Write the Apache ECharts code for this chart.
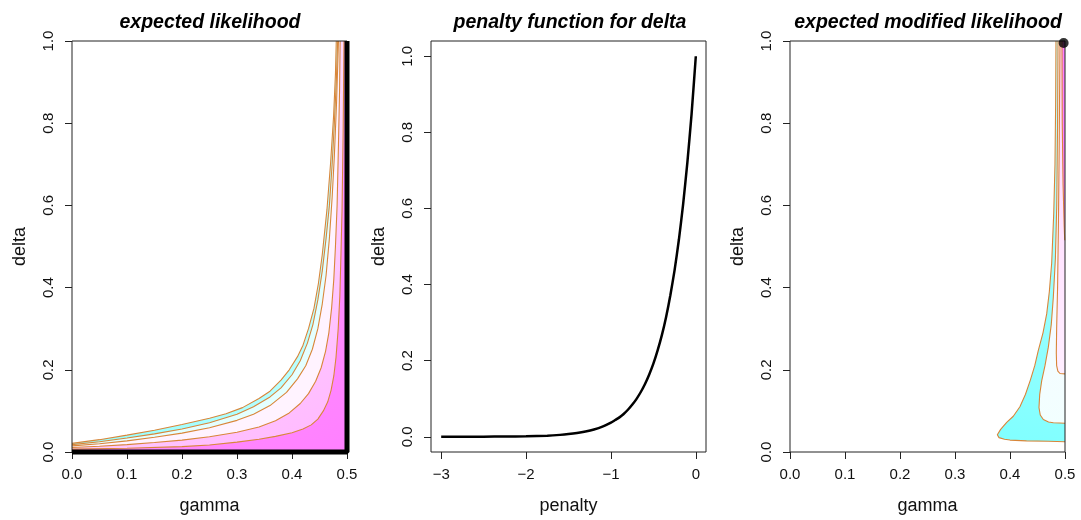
<!DOCTYPE html>
<html>
<head>
<meta charset="utf-8">
<script src="https://cdn.jsdelivr.net/npm/echarts@6/dist/echarts.min.js"></script>
<style>
  html, body { margin: 0; padding: 0; background: #fff; }
  #main { width: 1081px; height: 520px; }
</style>
</head>
<body>
<div id="main"></div>
<script>
var gammaTicks = [0, 0.1, 0.2, 0.3, 0.4, 0.5];
var deltaTicks = [0, 0.2, 0.4, 0.6, 0.8, 1];
var penaltyTicks = [-3, -2, -1, 0];

// middle panel: penalty -> delta
var penalty = [-3, -2.5, -2.25, -2, -1.75, -1.6, -1.5, -1.4, -1.3, -1.2, -1.1, -1, -0.95, -0.9, -0.85, -0.8, -0.75, -0.7, -0.65, -0.6, -0.55, -0.5, -0.45, -0.4, -0.35, -0.3, -0.25, -0.2, -0.15, -0.1, -0.05, 0];
var penaltyDelta = [0.00005, 0.0003, 0.0006, 0.0014, 0.003, 0.005, 0.007, 0.0098, 0.0137, 0.019, 0.0265, 0.037, 0.044, 0.051, 0.06, 0.071, 0.084, 0.099, 0.117, 0.138, 0.163, 0.192, 0.227, 0.267, 0.315, 0.372, 0.438, 0.517, 0.61, 0.72, 0.848, 1.0];

// left panel contour lines, [gamma, delta]
var likC1 = [[0, 0.021], [0.05, 0.03], [0.1, 0.041], [0.15, 0.053], [0.2, 0.067], [0.25, 0.082], [0.28, 0.093], [0.31, 0.108], [0.34, 0.13], [0.36, 0.148], [0.38, 0.175], [0.395, 0.2], [0.41, 0.232], [0.42, 0.26], [0.43, 0.3], [0.44, 0.35], [0.448, 0.41], [0.455, 0.48], [0.4635, 0.589], [0.47, 0.7], [0.4756, 0.817], [0.479, 0.92], [0.4805, 1]];
var likC2 = [[0, 0.018], [0.05, 0.025], [0.1, 0.034], [0.15, 0.044], [0.2, 0.056], [0.25, 0.071], [0.3, 0.092], [0.33, 0.11], [0.36, 0.134], [0.38, 0.156], [0.4, 0.188], [0.415, 0.222], [0.428, 0.265], [0.438, 0.31], [0.447, 0.37], [0.455, 0.44], [0.462, 0.52], [0.468, 0.6], [0.473, 0.7], [0.477, 0.8], [0.4805, 0.9], [0.483, 1]];
var likC3 = [[0, 0.015], [0.05, 0.02], [0.1, 0.027], [0.15, 0.036], [0.2, 0.046], [0.25, 0.059], [0.3, 0.077], [0.33, 0.092], [0.36, 0.113], [0.39, 0.145], [0.41, 0.178], [0.425, 0.21], [0.437, 0.25], [0.447, 0.3], [0.455, 0.36], [0.462, 0.43], [0.468, 0.52], [0.473, 0.62], [0.477, 0.72], [0.481, 0.85], [0.4845, 1]];
var likC4 = [[0, 0.011], [0.05, 0.014], [0.1, 0.018], [0.15, 0.023], [0.2, 0.029], [0.25, 0.037], [0.3, 0.048], [0.34, 0.061], [0.37, 0.076], [0.395, 0.095], [0.415, 0.118], [0.43, 0.142], [0.443, 0.172], [0.453, 0.205], [0.461, 0.245], [0.467, 0.29], [0.472, 0.35], [0.476, 0.42], [0.479, 0.5], [0.482, 0.6], [0.4845, 0.75], [0.4865, 0.88], [0.4875, 1]];
var likC5 = [[0, 0.007], [0.1, 0.009], [0.2, 0.013], [0.25, 0.017], [0.3, 0.024], [0.34, 0.031], [0.37, 0.038], [0.4, 0.047], [0.42, 0.056], [0.435, 0.066], [0.447, 0.08], [0.457, 0.1], [0.465, 0.122], [0.471, 0.15], [0.476, 0.185], [0.48, 0.23], [0.484, 0.3], [0.487, 0.38], [0.489, 0.48], [0.491, 0.589], [0.493, 0.78], [0.4945, 1]];
var likBoundary = [[0, 0], [0.5, 0], [0.5, 1]];

// right panel contour lines
var modC1 = [[0.4836, 1], [0.483, 0.85], [0.4818, 0.7], [0.4795, 0.58], [0.4758, 0.46], [0.4715, 0.39], [0.4667, 0.336], [0.46, 0.29], [0.4515, 0.247], [0.445, 0.21], [0.437, 0.175], [0.428, 0.14], [0.418, 0.11], [0.406, 0.087], [0.394, 0.072], [0.383, 0.055], [0.377, 0.042], [0.38, 0.035], [0.39, 0.031], [0.4, 0.029], [0.43, 0.027], [0.47, 0.026], [0.5, 0.025]];
var modC2 = [[0.4873, 1], [0.4865, 0.8], [0.485, 0.6], [0.4825, 0.47], [0.4788, 0.377], [0.475, 0.31], [0.4697, 0.255], [0.4636, 0.21], [0.4576, 0.173], [0.454, 0.14], [0.4527, 0.108], [0.455, 0.09], [0.4606, 0.079], [0.47, 0.073], [0.4788, 0.071], [0.49, 0.0705], [0.5, 0.07]];
var modC3 = [[0.4909, 1], [0.4895, 0.75], [0.488, 0.55], [0.4865, 0.4], [0.4848, 0.3], [0.4842, 0.24], [0.4848, 0.21], [0.487, 0.197], [0.4909, 0.191], [0.5, 0.19]];
var modC4 = [[0.4945, 1], [0.495, 0.8], [0.4965, 0.65], [0.4985, 0.55], [0.4995, 0.515]];
var modMax = [[0.4975, 0.995]];

var font = 'Liberation Sans, Arial, Helvetica, sans-serif';
var lineCol = '#D8863A';
var grids = [72, 431, 790];

function grad(x0, y0, x1, y1, c0, c1) {
  return new echarts.graphic.LinearGradient(x0, y0, x1, y1, [{ offset: 0, color: c0 }, { offset: 1, color: c1 }]);
}

// filled region: a contour closed off along the panel edge
function region(g, pts, corners, fill) {
  var all = pts.concat(corners);
  return {
    type: 'custom', xAxisIndex: g, yAxisIndex: g, silent: true, z: 1,
    data: [[0, 0]],
    renderItem: function (params, api) {
      return {
        type: 'polygon',
        shape: { points: all.map(function (p) { return api.coord(p); }) },
        style: { fill: fill, stroke: null }
      };
    }
  };
}

function contour(g, pts) {
  return {
    type: 'line', xAxisIndex: g, yAxisIndex: g, data: pts, symbol: 'none', silent: true, z: 3,
    lineStyle: { color: lineCol, width: 1.1 }
  };
}

function fmt1(v) { return v.toFixed(1); }
function fmtMinus(v) { return v < 0 ? '\u2212' + Math.abs(v) : String(v); }

function xAx(g, min, max, ticks, name, f) {
  return {
    gridIndex: g, type: 'value', min: min, max: max,
    name: name, nameLocation: 'middle', nameGap: 45,
    nameTextStyle: { fontFamily: font, fontSize: 18, color: '#111' },
    axisLine: { show: false, onZero: false },
    axisTick: { show: true, length: 7, customValues: ticks, lineStyle: { color: '#222' } },
    axisLabel: { customValues: ticks, margin: 15, formatter: f, fontFamily: font, fontSize: 15, color: '#111' },
    splitLine: { show: false }
  };
}

function yAx(g, min, max, ticks, name) {
  return {
    gridIndex: g, type: 'value', min: min, max: max,
    name: name, nameLocation: 'middle', nameGap: 43, nameRotate: 90,
    nameTextStyle: { fontFamily: font, fontSize: 18, color: '#111' },
    axisLine: { show: false, onZero: false },
    axisTick: { show: true, length: 7, customValues: ticks, lineStyle: { color: '#222' } },
    axisLabel: { customValues: ticks, rotate: 90, margin: 16, formatter: fmt1, fontFamily: font, fontSize: 15, color: '#111' },
    splitLine: { show: false }
  };
}

var chart = echarts.init(document.getElementById('main'), null, { renderer: 'canvas' });

var corner = [[0.5, 1], [0.5, 0], [0, 0]];

var option = {
  backgroundColor: '#fff',
  animation: false,
  title: [
    { text: 'expected likelihood', left: 72 + 133, top: 8, textAlign: 'center' },
    { text: 'penalty function for delta', left: 431 + 134, top: 8, textAlign: 'center' },
    { text: 'expected modified likelihood', left: 790 + 133, top: 8, textAlign: 'center' }
  ].map(function (t) {
    t.textStyle = { fontFamily: font, fontSize: 19.5, fontWeight: 'bold', fontStyle: 'italic', color: '#000' };
    return t;
  }),
  grid: grids.map(function (l) {
    return { left: l, top: 41, width: 275, height: 411, show: true, borderColor: '#222', borderWidth: 1, z: 5 };
  }),
  xAxis: [
    xAx(0, 0, 0.5, gammaTicks, 'gamma', fmt1),
    xAx(1, -3.12, 0.12, penaltyTicks, 'penalty', fmtMinus),
    xAx(2, 0, 0.5, gammaTicks, 'gamma', fmt1)
  ],
  yAxis: [
    yAx(0, 0, 1, deltaTicks, 'delta'),
    yAx(1, -0.04, 1.04, deltaTicks, 'delta'),
    yAx(2, 0, 1, deltaTicks, 'delta')
  ],
  series: [
    // left panel colour field
    region(0, likC1, corner, grad(0, 0, 1, 0, '#90FFFF', '#C0FFFF')),
    region(0, likC2, corner, '#E4FFFF'),
    region(0, likC3, corner, '#FFF3FF'),
    region(0, likC4, corner, grad(0, 0, 1, 1, '#FFE6FF', '#FFB8FF')),
    region(0, likC5, corner, grad(0, 0, 1, 1, '#FFA6FF', '#FF80FF')),
    contour(0, likC1), contour(0, likC2), contour(0, likC3), contour(0, likC4), contour(0, likC5),
    {
      type: 'line', xAxisIndex: 0, yAxisIndex: 0, data: likBoundary, symbol: 'none', clip: false, z: 6,
      lineStyle: { color: '#000', width: 5 }
    },
    // middle panel
    {
      type: 'line', xAxisIndex: 1, yAxisIndex: 1,
      data: penalty.map(function (p, i) { return [p, penaltyDelta[i]]; }),
      symbol: 'none', smooth: 0.2,
      lineStyle: { color: '#000', width: 2.5 }
    },
    // right panel colour field
    region(2, modC1, [[0.5, 1]], grad(0, 1, 1, 0, '#80FFFF', '#C4FFFF')),
    region(2, modC2, [[0.5, 1]], grad(0, 1, 0, 0, '#F2FFFF', '#FFF0FF')),
    region(2, modC3, [[0.5, 1]], grad(0, 1, 1, 0, '#FFEEFF', '#FFD2FF')),
    region(2, modC4, [[0.5, 0.515], [0.5, 1]], '#FF80FF'),
    contour(2, modC1), contour(2, modC2), contour(2, modC3), contour(2, modC4),
    {
      type: 'scatter', xAxisIndex: 2, yAxisIndex: 2, data: modMax, symbolSize: 10, z: 6,
      itemStyle: { color: '#000' }
    }
  ]
};

chart.setOption(option);
</script>
</body>
</html>
